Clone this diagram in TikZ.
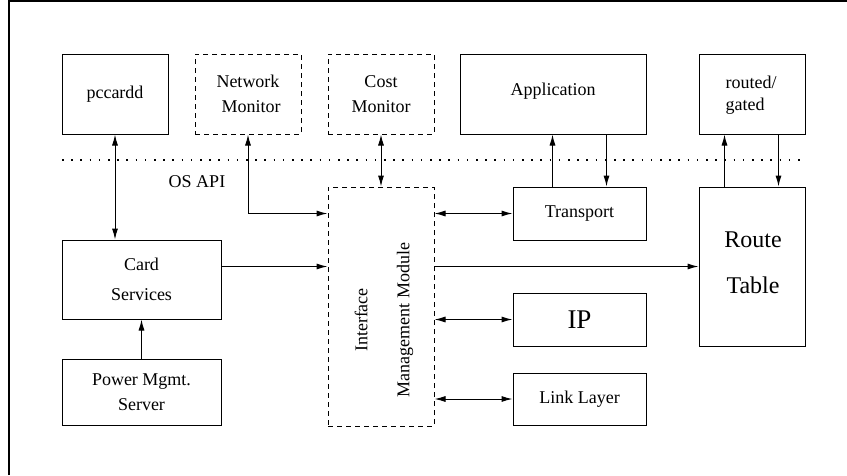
\documentclass[tikz,border=0pt]{standalone}
\usepackage{fontspec}
\setmainfont{Liberation Serif}
\usetikzlibrary{arrows.meta,calc}
\begin{document}
\begin{tikzpicture}[x=1pt,y=-1pt,
  every node/.style={font=\fontsize{18}{24}\selectfont},
  box/.style={draw,line width=1pt,rectangle,inner sep=0pt,align=center},
  dbox/.style={box,dash pattern=on 5pt off 4pt},
  conn/.style={line width=1pt,-{Latex[length=11pt,width=6pt]}},
  biconn/.style={line width=1pt,{Latex[length=11pt,width=6pt]}-{Latex[length=11pt,width=6pt]}},
  apiline/.style={line width=2pt,dash pattern=on 1.6pt off 7.6pt}]
\useasboundingbox (0,0) rectangle (847,475);
% frame
\coordinate (fbl) at (9,475);
\coordinate (ftl) at (9,1);
\coordinate (ftr) at (847,1);
\draw[line width=1.2pt] (fbl) -- (ftl) -- (ftr);

% top row
\node[box,minimum width=106pt,minimum height=80pt] (pccardd) at (115,94) {pccardd};
\node[dbox,minimum width=106pt,minimum height=80pt] (netmon) at (248,94) {Network\\[1pt]\hspace{6pt}Monitor};
\node[dbox,minimum width=106pt,minimum height=80pt] (cost) at (381,94) {Cost\\[1pt]Monitor};
\node[box,minimum width=186pt,minimum height=80pt,text height=20pt,text depth=18pt] (app) at (553,94) {Application};
\node[box,minimum width=106pt,minimum height=80pt] (routed) at (752,94) {};
\node[align=left,anchor=west] (routedtxt) at (722,95) {routed/\\[-2pt]gated};

% API line
\coordinate (apiL) at (62,160);
\coordinate (apiR) at (805,160);
\draw[apiline] (apiL) -- (apiR);
\node (osapi) at (197,182) {OS API};

% middle
\node[dbox,minimum width=106pt,minimum height=239pt] (imm) at (381,306.5) {};
\node[rotate=90,align=center] (immtxt) at (384,320) {Interface\\[18pt]Management Module};
\node[box,minimum width=133pt,minimum height=53pt] (transport) at (579.5,213.5) {Transport};
\node[box,minimum width=106pt,minimum height=159pt] (route) at (752,266.5) {};
\node[align=center,font=\fontsize{24}{30}\selectfont] (routetxt) at (753,263) {Route\\[16pt]Table};
\node[box,minimum width=159pt,minimum height=79pt] (card) at (141.5,279.5) {Card\\[6pt]Services};
\node[box,minimum width=159pt,minimum height=66pt] (power) at (141.5,392) {Power Mgmt.\\[1pt]Server};
\node[box,minimum width=133pt,minimum height=53pt,font=\fontsize{27}{30}\selectfont] (ip) at (579.5,319.5) {IP};
\node[box,minimum width=133pt,minimum height=52pt] (ll) at (579.5,399) {Link Layer};

% anchor points for vertical connectors
\coordinate (tup) at ($(transport.north west)+(40,0)$);
\coordinate (tdn) at ($(transport.north east)+(-40,0)$);
\coordinate (rup) at ($(route.north west)+(26,0)$);
\coordinate (rdn) at ($(route.north east)+(-27,0)$);

% connectors
\draw[biconn] (pccardd.south) -- (pccardd.south |- card.north);
\draw[biconn] (netmon.south) |- (imm.west |- transport.west);
\draw[biconn] (cost.south) -- (imm.north);
\draw[biconn] (imm.east |- transport.west) -- (transport.west);
\draw[conn] (tup) -- (tup |- app.south);
\draw[conn] (tdn |- app.south) -- (tdn);
\draw[conn] (rup) -- (rup |- routed.south);
\draw[conn] (rdn |- routed.south) -- (rdn);
\draw[conn] (card.east |- route.west) -- (imm.west |- route.west);
\draw[conn] (imm.east |- route.west) -- (route.west);
\draw[biconn] (imm.east |- ip.west) -- (ip.west);
\draw[biconn] (imm.east |- ll.west) -- (ll.west);
\draw[conn] (power.north) -- (card.south);
\end{tikzpicture}
\end{document}
